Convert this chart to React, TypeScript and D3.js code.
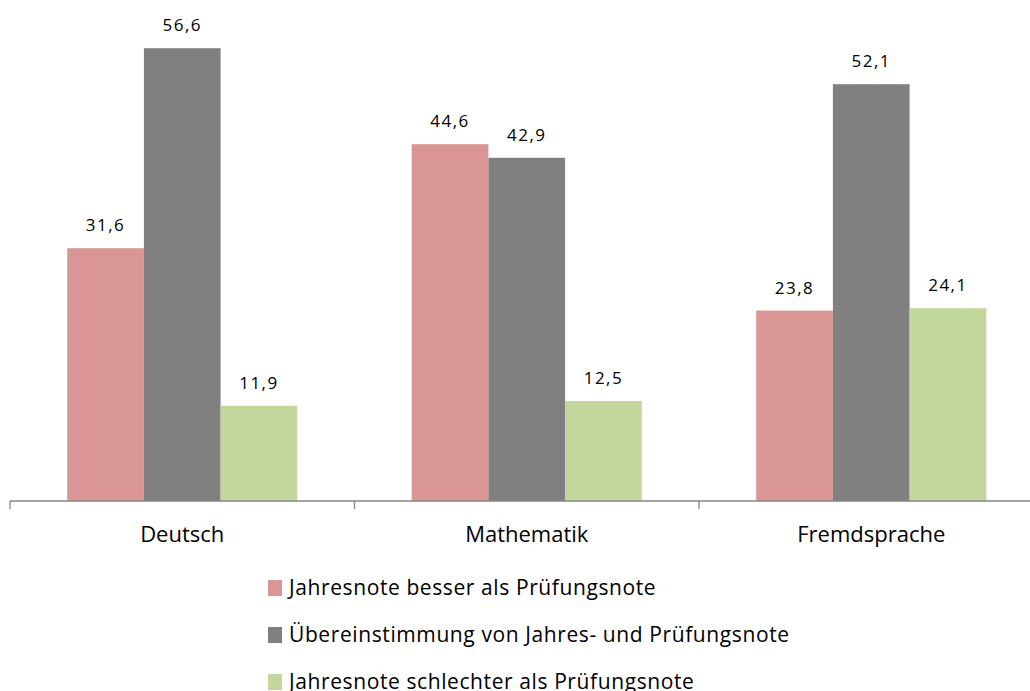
import React from "react";
import * as d3 from "d3";

const categories = ["Deutsch", "Mathematik", "Fremdsprache"];
const seriesNames = [
  "Jahresnote besser als Prüfungsnote",
  "Übereinstimmung von Jahres- und Prüfungsnote",
  "Jahresnote schlechter als Prüfungsnote",
];
const besser = [31.6, 44.6, 23.8];
const gleich = [56.6, 42.9, 52.1];
const schlechter = [11.9, 12.5, 24.1];
const seriesValues = [besser, gleich, schlechter];
const colors = ["#D99694", "#808080", "#C3D69B"];

const W = 1030;
const H = 691;
const FONT = "'Open Sans', 'Noto Sans', sans-serif";

export default function App() {
  const baseY = 501;
  const x0 = d3.scaleBand<string>().domain(categories).range([10, 1043.5]).padding(0);
  const x1 = d3
    .scaleBand<number>()
    .domain([0, 1, 2])
    .range([0, x0.bandwidth()])
    .paddingInner(0)
    .paddingOuter(0.746);
  const y = d3.scaleLinear().domain([0, 60]).range([baseY, baseY - 60 * 8.0]);

  const ticks = categories.map((c) => x0(c)!);

  return (
    <svg
      width={W}
      height={H}
      style={{ position: "absolute", left: 0, top: 0, background: "#fff" }}
      fontFamily={FONT}
    >
      {categories.map((c, ci) => (
        <g key={c}>
          {seriesValues.map((vals, si) => {
            const bx = x0(c)! + x1(si)!;
            const v = vals[ci];
            return (
              <g key={si}>
                <rect
                  x={bx}
                  y={y(v)}
                  width={x1.bandwidth()}
                  height={baseY - y(v)}
                  fill={colors[si]}
                />
                <text
                  x={bx + x1.bandwidth() / 2}
                  y={y(v) - 17}
                  textAnchor="middle"
                  fontSize={17}
                  letterSpacing={1.5}
                  fill="#000"
                >
                  {v.toFixed(1).replace(".", ",")}
                </text>
              </g>
            );
          })}
          <text
            x={x0(c)! + x0.bandwidth() / 2}
            y={542}
            textAnchor="middle"
            fontSize={22}
            fill="#000"
          >
            {c}
          </text>
        </g>
      ))}
      <line x1={10} x2={W} y1={baseY} y2={baseY} stroke="#868686" strokeWidth={1.3} />
      {ticks.map((t, i) => (
        <line key={i} x1={t} x2={t} y1={baseY} y2={baseY + 8} stroke="#868686" strokeWidth={1.3} />
      ))}
      {seriesNames.map((s, i) => (
        <g key={s} transform={`translate(0, ${i * 47})`}>
          <rect x={268} y={580} width={14} height={16} fill={colors[i]} />
          <text x={289} y={595} fontSize={21} letterSpacing={0.6} fill="#000">
            {s}
          </text>
        </g>
      ))}
    </svg>
  );
}
